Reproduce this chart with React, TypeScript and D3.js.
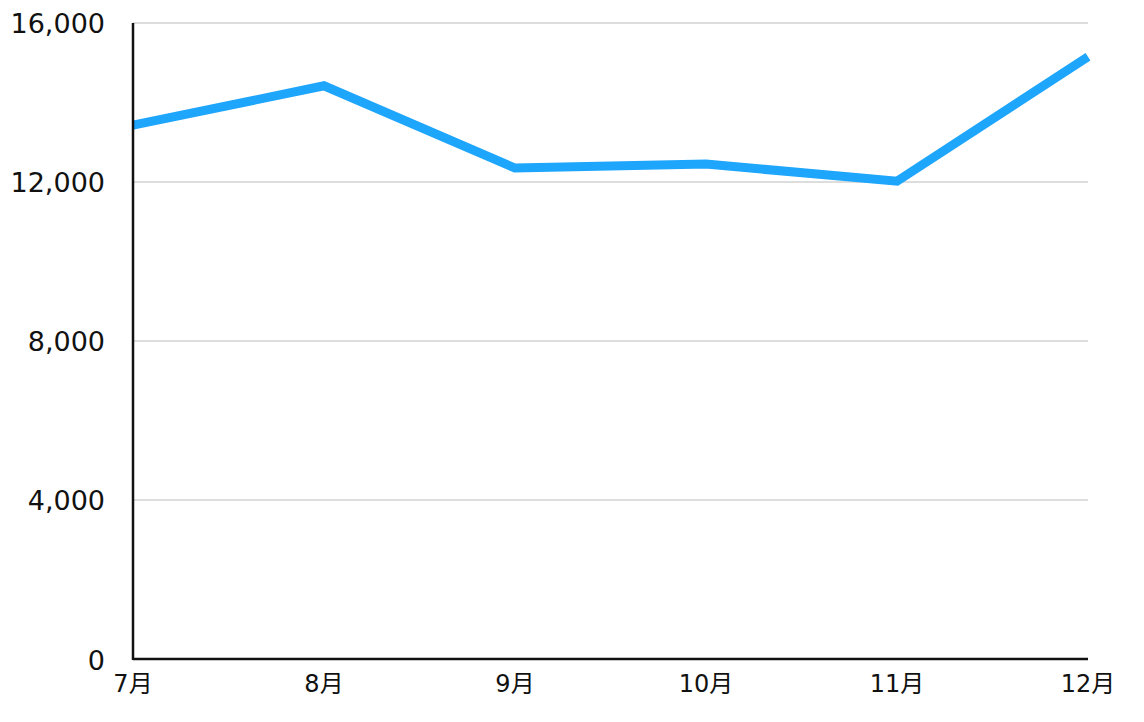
import React from "react";
import * as d3 from "d3";

const months = ["7月", "8月", "9月", "10月", "11月", "12月"];
const values = [13430, 14420, 12350, 12450, 12020, 15150];
const yTicks = [0, 4000, 8000, 12000, 16000];

export default function App() {
  const W = 1144, H = 722;
  const left = 133, right = 1088, top = 23, bottom = 659;
  const x = d3.scalePoint<string>().domain(months).range([left, right]);
  const y = d3.scaleLinear().domain([0, 16000]).range([bottom, top]);
  const line = d3.line<number>().x((_, i) => x(months[i])!).y((d) => y(d));
  const fmt = d3.format(",");
  const font = "'DejaVu Sans', 'Noto Sans CJK JP', sans-serif";
  return (
    <svg width={W} height={H} style={{ position: "absolute", left: 0, top: 0 }} fontFamily={font}>
      <rect width={W} height={H} fill="#fff" />
      {yTicks.filter((t) => t > 0).map((t) => (
        <line key={t} x1={left} x2={right} y1={y(t)} y2={y(t)} stroke="#bbb" strokeWidth={1} />
      ))}
      {yTicks.map((t) => (
        <text key={t} x={105} y={y(t)} dy={t === 0 ? "0.42em" : "0.36em"} textAnchor="end" fontSize={27} fill="#111">
          {fmt(t)}
        </text>
      ))}
      {months.map((m) => (
        <text key={m} x={x(m)} y={692} textAnchor="middle" fontSize={24} fill="#111">
          {m}
        </text>
      ))}
      <path d={line(values)!} fill="none" stroke="#1EA5FC" strokeWidth={9} strokeLinejoin="miter" />
      <line x1={left} x2={left} y1={top} y2={bottom + 1} stroke="#111" strokeWidth={2.5} />
      <line x1={left} x2={right} y1={bottom} y2={bottom} stroke="#111" strokeWidth={2.5} />
    </svg>
  );
}
